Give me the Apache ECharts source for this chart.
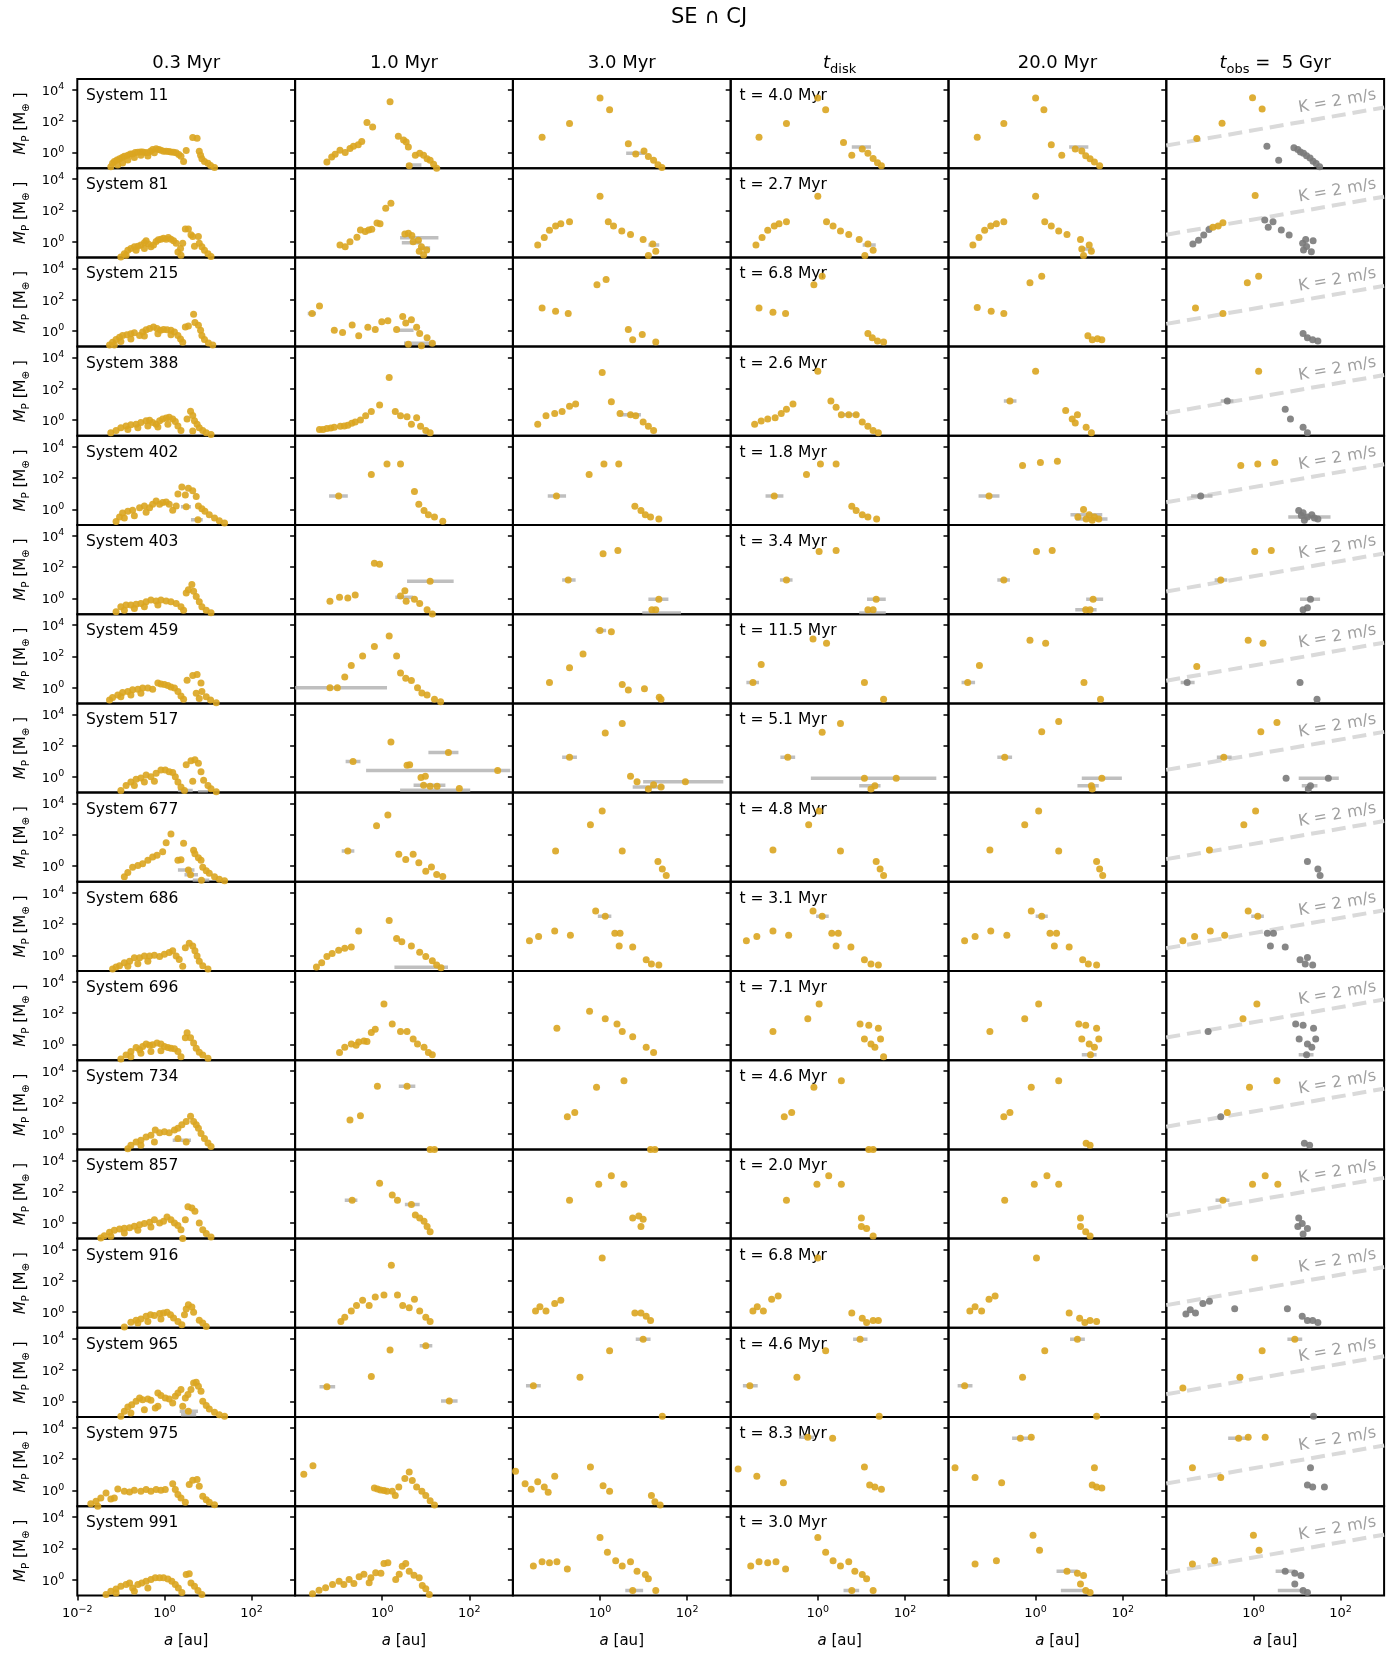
<!DOCTYPE html>
<html><head><meta charset="utf-8">
<script src="https://cdn.jsdelivr.net/npm/echarts@6/dist/echarts.min.js"></script>
<style>html,body{margin:0;padding:0;background:#fff}#c{width:1400px;height:1653px}</style>
</head><body><div id="c"></div>
<script>
// ---------- data (all positions in log10: [log10(a/au), log10(M/M_earth)]) ----------
const SYSTEMS = [11,81,215,388,402,403,459,517,677,686,696,734,857,916,965,975,991];
const T_DISK = ['4.0','2.7','6.8','2.6','1.8','3.4','11.5','5.1','4.8','3.1','7.1','4.6','2.0','6.8','4.6','8.3','3.0'];
const COL_TITLES = ['0.3 Myr','1.0 Myr','3.0 Myr','{i|t}{s|disk}','20.0 Myr','{i|t}{s|obs}{n| =  5 Gyr}'];
const X_TICKS = [0.01, 1, 100];
const Y_TICKS = [1, 100, 10000];
const K_LINE_LOG = [[-2, 0.45], [3, 2.88]]; // K = 2 m/s detection line

// Y_* : yellow points per column [0.3, 1.0, 3.0, t_disk, 20.0, t_obs]; G_* : grey points (t_obs); B_* : grey error bars [col, logA_lo, logA_hi, logM]
const Y_11 = [
 [[-1.23,-0.9],[-1.19,-0.68],[-1.15,-0.57],[-1.09,-0.48],[-1.03,-0.39],[-0.97,-0.31],[-0.92,-0.24],[-0.84,-0.18],[-0.78,-0.09],[-0.73,-0.09],[-0.67,0],[-0.61,0.02],[-0.55,0.04],[-0.5,0.04],[-0.44,0],[-0.38,-0.02],[-0.32,0.09],[-0.27,0.2],[-0.19,0.24],[-0.13,0.2],[-0.08,0.15],[-0.02,0.09],[0.04,0.09],[0.1,0.07],[0.15,0.04],[0.21,0.02],[0.27,-0.02],[0.33,-0.13],[0.38,-0.24],[0.44,-0.57],[0.5,0.13],[0.65,0.96],[0.75,0.92],[0.8,0.09],[0.83,-0.18],[0.86,-0.39],[0.92,-0.57],[1.0,-0.68],[1.06,-0.83],[1.15,-0.96],[-1.07,-0.79],[-0.96,-0.66],[-0.84,-0.48],[-0.69,-0.31],[-0.54,-0.18],[-0.38,-0.22],[-0.23,-0.02]],
 [[-1.27,-0.6],[-1.16,-0.28],[-1.08,-0.11],[-0.97,0.15],[-0.85,0.0],[-0.74,0.26],[-0.66,0.4],[-0.55,0.5],[-0.47,0.7],[-0.35,1.92],[-0.22,1.64],[0.18,3.24],[0.37,1.04],[0.49,0.8],[0.55,0.68],[0.6,0.36],[0.76,-0.17],[0.86,-0.04],[0.95,-0.17],[1.03,-0.4],[1.1,-0.5],[1.18,-0.75],[1.25,-1.0],[0.62,-0.85]],
 [[-1.33,0.97],[-0.7,1.85],[0.0,3.48],[0.22,2.73],[0.65,0.57],[0.82,-0.1],[1.01,0.1],[1.11,-0.25],[1.23,-0.5],[1.33,-0.78],[1.42,-0.95]],
 [[-1.35,0.97],[-0.72,1.85],[0.0,3.48],[0.18,2.73],[0.59,0.64],[0.78,-0.17],[1.02,0.23],[1.15,-0.04],[1.27,-0.38],[1.37,-0.65],[1.46,-0.85]],
 [[-1.34,0.97],[-0.73,1.85],[0.0,3.48],[0.19,2.73],[0.36,0.5],[0.6,-0.17],[0.91,0.23],[1.06,0.1],[1.15,-0.2],[1.25,-0.4],[1.35,-0.6],[1.47,-0.85]],
 [[-1.3,0.9],[-0.72,1.87],[-0.02,3.5],[0.2,2.78]]
];
const G_11 = [[0.31,0.4],[0.58,-0.5],[0.93,0.3],[1.02,0.2],[1.08,0.04],[1.15,-0.05],[1.22,-0.2],[1.3,-0.35],[1.37,-0.55],[1.44,-0.7],[1.52,-0.9]];
const B_11 = [[1,0.55,0.9,-0.8],[2,0.6,1.04,-0.04],[3,0.78,1.22,0.36],[4,0.77,1.21,0.36]];

const Y_81 = [
 [[-1.0,-0.98],[-0.92,-0.76],[-0.84,-0.54],[-0.77,-0.43],[-0.69,-0.32],[-0.61,-0.28],[-0.54,-0.21],[-0.46,-0.06],[-0.42,0.07],[-0.37,-0.15],[-0.31,-0.32],[-0.25,-0.21],[-0.19,0.01],[-0.14,0.12],[-0.08,0.16],[-0.02,0.23],[0.04,0.16],[0.09,0.27],[0.15,0.16],[0.21,0.07],[0.27,-0.1],[0.31,-0.65],[0.37,-0.43],[0.42,-0.1],[0.48,0.82],[0.55,0.82],[0.61,0.45],[0.65,0.34],[0.69,-0.28],[0.78,0.34],[0.8,-0.1],[0.86,-0.32],[0.92,-0.54],[1.0,-0.76],[1.07,-0.94],[-0.88,-0.87],[-0.65,-0.54],[-0.46,-0.43],[0.38,-0.87]],
 [[-0.97,-0.21],[-0.85,-0.32],[-0.74,0.0],[-0.58,0.28],[-0.5,0.75],[-0.39,0.65],[-0.31,0.75],[-0.24,0.8],[-0.12,1.2],[-0.05,1.15],[0.08,2.14],[0.2,2.46],[0.52,0.5],[0.6,0.55],[0.68,0.4],[0.71,0.0],[0.83,0.1],[0.9,-0.32],[1.02,-0.53],[0.85,-0.6],[0.95,-0.85]],
 [[-1.43,-0.2],[-1.28,0.27],[-1.16,0.74],[-1.02,1.0],[-0.9,1.15],[-0.7,1.28],[0.0,2.9],[0.19,1.28],[0.31,1.0],[0.5,0.68],[0.7,0.47],[0.99,0.14],[1.21,-0.14],[1.28,-0.6],[1.11,-0.88]],
 [[-1.42,-0.2],[-1.28,0.27],[-1.15,0.74],[-1.0,1.0],[-0.89,1.15],[-0.72,1.28],[0.0,2.9],[0.2,1.28],[0.35,1.0],[0.52,0.68],[0.71,0.47],[0.95,0.14],[1.15,-0.14],[1.27,-0.54],[1.08,-0.88]],
 [[-1.44,-0.2],[-1.3,0.27],[-1.17,0.74],[-1.03,1.0],[-0.9,1.15],[-0.73,1.28],[0.0,2.9],[0.21,1.28],[0.36,1.0],[0.53,0.68],[0.72,0.47],[1.03,0.14],[1.23,-0.2],[1.06,-0.47],[1.28,-0.6],[1.1,-0.88]],
 [[-0.93,0.92],[-0.81,1.0],[-0.7,1.22],[0.04,2.95]]
];
const G_81 = [[-1.39,-0.15],[-1.26,0.1],[-1.14,0.43],[-1.02,0.79],[0.26,1.39],[0.34,0.92],[0.45,1.28],[0.64,0.75],[0.82,0.43],[1.13,-0.1],[1.2,0.15],[1.37,0.06],[1.15,-0.53],[1.33,-0.64],[1.22,-0.3]];
const B_81 = [[1,0.41,1.29,0.26],[1,0.45,0.9,-0.06],[1,0.86,1.1,-0.4],[2,1.11,1.36,-0.2],[3,1.03,1.33,-0.2],[4,1.03,1.33,-0.47]];

const Y_215 = [
 [[-1.26,-0.9],[-1.19,-0.73],[-1.11,-0.55],[-1.03,-0.4],[-0.96,-0.29],[-0.86,-0.25],[-0.77,-0.18],[-0.69,-0.12],[-0.57,-0.29],[-0.5,-0.07],[-0.42,0.08],[-0.34,0.15],[-0.25,0.26],[-0.17,0.15],[-0.09,0.04],[-0.02,0.1],[0.06,0.08],[0.15,0.04],[0.23,-0.07],[0.31,-0.29],[0.37,-0.51],[0.42,-0.73],[0.48,0.26],[0.55,0.32],[0.67,1.07],[0.7,0.54],[0.78,0.37],[0.83,0.04],[0.86,-0.29],[0.92,-0.55],[1.01,-0.77],[1.11,-0.9],[-1.15,-0.9],[-1.0,-0.68],[-0.77,-0.51],[-0.46,-0.33],[-0.15,-0.18],[0.15,-0.25]],
 [[-1.61,1.12],[-1.44,1.59],[-1.1,0.04],[-0.91,-0.1],[-0.69,0.38],[-0.54,-0.3],[-0.33,0.24],[-0.16,0.1],[-0.01,0.58],[0.13,0.65],[0.33,0.1],[0.47,0.92],[0.54,0.51],[0.67,0.72],[0.79,0.24],[0.86,-0.16],[1.03,-0.44],[1.15,-0.78],[0.6,-0.85],[0.9,-0.95]],
 [[-1.33,1.46],[-1.02,1.26],[-0.73,1.12],[-0.07,2.95],[0.14,3.28],[0.65,0.1],[0.75,-0.57],[0.97,-0.23],[1.28,-0.7]],
 [[-1.35,1.46],[-1.03,1.19],[-0.74,1.12],[-0.09,2.95],[0.1,3.49],[1.15,-0.16],[1.25,-0.44],[1.37,-0.64],[1.51,-0.7]],
 [[-1.34,1.5],[-1.02,1.26],[-0.73,1.12],[-0.13,3.08],[0.14,3.49],[1.2,-0.3],[1.3,-0.57],[1.42,-0.5],[1.52,-0.57]],
 [[-1.33,1.46],[-0.7,1.12],[-0.14,3.08],[0.12,3.49]]
];
const G_215 = [[1.14,-0.16],[1.24,-0.44],[1.36,-0.57],[1.48,-0.64]];
const B_215 = [[1,-1.71,-1.52,1.12],[1,0.5,1.22,-0.78],[1,0.38,0.72,0.04]];

const Y_388 = [
 [[-1.23,-0.81],[-1.11,-0.66],[-1.0,-0.48],[-0.88,-0.37],[-0.77,-0.3],[-0.65,-0.26],[-0.54,-0.15],[-0.42,-0.04],[-0.34,0],[-0.27,-0.15],[-0.19,-0.26],[-0.11,-0.04],[-0.04,0.07],[0.04,0.14],[0.11,0.18],[0.19,0.07],[0.25,-0.09],[0.31,-0.37],[0.38,-0.66],[0.52,0.07],[0.6,0.57],[0.65,0.29],[0.69,-0.04],[0.75,-0.26],[0.8,-0.48],[0.88,-0.66],[0.96,-0.81],[1.07,-0.92],[-0.84,-0.59],[-0.61,-0.48],[-0.38,-0.37],[-0.15,-0.44],[0.08,-0.26],[0.65,-0.7]],
 [[-1.44,-0.59],[-1.36,-0.6],[-1.27,-0.53],[-1.18,-0.5],[-1.1,-0.46],[-0.96,-0.39],[-0.87,-0.38],[-0.79,-0.32],[-0.7,-0.2],[-0.62,-0.12],[-0.5,0.01],[-0.38,0.28],[-0.25,0.55],[-0.06,0.96],[0.16,2.72],[0.3,0.55],[0.42,0.28],[0.57,0.22],[0.67,-0.26],[0.79,0.15],[0.88,-0.39],[1.0,-0.66],[1.1,-0.8]],
 [[-1.43,-0.26],[-1.24,0.28],[-1.04,0.42],[-0.87,0.55],[-0.7,0.89],[-0.56,1.03],[0.05,3.05],[0.26,1.17],[0.46,0.42],[0.7,0.35],[0.82,0.28],[0.99,-0.12],[1.11,-0.39],[1.23,-0.66]],
 [[-1.45,-0.26],[-1.3,-0.05],[-1.15,0.08],[-0.98,0.15],[-0.84,0.42],[-0.72,0.69],[-0.57,1.03],[0.0,3.12],[0.3,1.23],[0.42,0.82],[0.54,0.35],[0.71,0.35],[0.88,0.35],[1.02,-0.12],[1.15,-0.39],[1.27,-0.66],[1.39,-0.8]],
 [[-0.59,1.23],[0.0,3.12],[0.69,0.62],[0.84,0.08],[0.96,0.35],[0.91,-0.19],[1.16,-0.46],[1.28,-0.8]],
 [[0.12,3.12]]
];
const G_388 = [[-0.6,1.23],[0.73,0.69],[0.85,0.08],[1.14,-0.46],[1.24,-0.8]];
const B_388 = [[2,0.46,0.94,0.35],[3,0.59,0.95,0.35],[4,-0.73,-0.44,1.23],[5,-0.75,-0.46,1.23]];

const Y_402 = [
 [[-1.11,-0.77],[-1.03,-0.49],[-0.96,-0.23],[-0.84,-0.12],[-0.73,-0.05],[-0.57,0.1],[-0.46,0.21],[-0.34,0.1],[-0.27,0.32],[-0.19,0.54],[-0.11,0.32],[-0.04,0.43],[0.04,0.47],[0.11,0.32],[0.19,-0.05],[0.27,0.21],[0.31,0.98],[0.4,1.42],[0.48,0.91],[0.55,1.34],[0.65,1.19],[0.73,0.82],[0.78,0.21],[0.86,0.04],[0.93,-0.12],[1.03,-0.34],[1.15,-0.56],[1.26,-0.73],[1.38,-0.88],[0.5,0.17],[0.77,-0.67],[-0.92,-0.56],[-0.69,-0.41],[-0.42,-0.19]],
 [[-1.0,0.86],[-0.25,2.22],[0.11,2.89],[0.42,2.89],[0.74,1.14],[0.84,0.32],[0.96,-0.08],[1.06,-0.35],[1.2,-0.49],[1.39,-0.76]],
 [[-1.0,0.86],[-0.25,2.22],[0.09,2.89],[0.43,2.89],[0.8,0.19],[0.94,-0.08],[1.04,-0.35],[1.16,-0.49],[1.35,-0.62]],
 [[-1.0,0.86],[-0.26,2.22],[0.06,2.89],[0.42,2.89],[0.78,0.19],[0.88,-0.08],[1.02,-0.35],[1.15,-0.49],[1.35,-0.62]],
 [[-1.07,0.86],[-0.3,2.8],[0.11,3.0],[0.5,3.07],[1.1,-0.01],[1.23,-0.35],[1.35,-0.49],[1.16,-0.62],[1.45,-0.62],[0.97,-0.49],[1.3,-0.7]],
 [[-0.29,2.8],[0.1,2.89],[0.49,3.0]]
];
const G_402 = [[-1.21,0.86],[1.04,-0.08],[1.14,-0.22],[1.24,-0.49],[1.34,-0.35],[1.17,-0.69],[1.48,-0.62],[1.1,-0.4],[1.4,-0.55]];
const B_402 = [[0,0.38,0.61,0.17],[0,0.61,0.88,-0.67],[1,-1.22,-0.79,0.86],[2,-1.2,-0.78,0.86],[3,-1.2,-0.79,0.86],[4,-1.31,-0.83,0.86],[4,0.8,1.53,-0.35],[4,0.92,1.65,-0.62],[5,-1.43,-0.94,0.86],[5,0.8,1.77,-0.49]];

const Y_403 = [
 [[-1.11,-0.85],[-1.0,-0.53],[-0.88,-0.42],[-0.77,-0.42],[-0.65,-0.37],[-0.54,-0.31],[-0.42,-0.2],[-0.31,-0.09],[-0.19,-0.15],[-0.08,-0.09],[0.04,-0.15],[0.15,-0.2],[0.27,-0.31],[0.38,-0.53],[0.44,-0.74],[0.5,0.35],[0.55,0.57],[0.63,0.9],[0.67,0.46],[0.73,0.13],[0.8,-0.2],[0.86,-0.53],[0.96,-0.74],[1.07,-0.9],[-0.92,-0.74],[-0.69,-0.63],[-0.46,-0.53],[-0.15,-0.42]],
 [[-1.2,-0.18],[-0.98,0.09],[-0.79,0.03],[-0.62,0.23],[-0.18,2.25],[-0.06,2.19],[0.42,0.16],[0.52,0.5],[0.55,-0.18],[0.74,-0.04],[0.86,-0.31],[1.03,-0.72],[1.15,-0.99],[1.1,1.11]],
 [[-0.73,1.18],[0.07,2.87],[0.41,3.07],[1.35,-0.04],[1.19,-0.72],[1.28,-0.72]],
 [[-0.72,1.18],[0.03,3.0],[0.42,3.07],[1.34,-0.04],[1.15,-0.72],[1.27,-0.72]],
 [[-0.73,1.18],[0.02,3.0],[0.38,3.07],[1.32,-0.04],[1.15,-0.72],[1.25,-0.72]],
 [[-0.75,1.18],[0.03,3.0],[0.41,3.07]]
];
const G_403 = [[1.31,-0.04],[1.14,-0.72],[1.24,-0.58]];
const B_403 = [[1,0.57,1.64,1.11],[1,0.3,0.71,0.09],[2,-0.87,-0.56,1.18],[2,1.11,1.57,-0.04],[2,0.97,1.86,-0.92],[3,-0.87,-0.58,1.18],[3,1.13,1.56,-0.04],[3,0.95,1.56,-0.92],[4,-0.88,-0.59,1.18],[4,1.16,1.55,-0.04],[4,0.91,1.4,-0.72],[5,-0.89,-0.6,1.18],[5,1.07,1.53,-0.04]];

const Y_459 = [
 [[-1.26,-0.79],[-1.19,-0.63],[-1.07,-0.46],[-0.96,-0.31],[-0.84,-0.24],[-0.73,-0.13],[-0.61,-0.09],[-0.5,-0.02],[-0.38,-0.02],[-0.27,-0.09],[-0.15,0.31],[-0.08,0.24],[0,0.2],[0.08,0.15],[0.15,0.04],[0.23,-0.02],[0.31,-0.24],[0.38,-0.53],[0.44,-0.74],[0.52,0.48],[0.65,0.79],[0.75,0.85],[0.73,-0.35],[0.8,-0.68],[0.84,0.31],[0.86,-0.24],[0.96,-0.57],[1.06,-0.79],[1.19,-0.96],[-1.0,-0.57],[-0.77,-0.46],[-0.54,-0.35]],
 [[-1.2,0.0],[-1.03,0.0],[-0.86,0.68],[-0.71,1.42],[-0.45,2.03],[-0.18,2.64],[0.16,3.31],[0.33,2.03],[0.42,0.95],[0.54,0.61],[0.67,0.47],[0.81,0.0],[0.91,-0.34],[1.03,-0.47],[1.2,-0.74],[1.34,-0.9]],
 [[-1.16,0.34],[-0.7,1.28],[-0.39,2.16],[0.0,3.65],[0.26,3.58],[0.51,0.2],[0.65,-0.14],[1.02,-0.07],[1.36,-0.61],[1.4,-0.74]],
 [[-1.49,0.34],[-1.3,1.49],[-0.11,3.11],[0.2,2.84],[1.07,0.34],[1.51,-0.74]],
 [[-1.56,0.34],[-1.29,1.42],[-0.13,3.04],[0.23,2.84],[1.11,0.34],[1.49,-0.74]],
 [[-1.3,1.35],[-0.12,3.04],[0.22,2.84]]
];
const G_459 = [[-1.52,0.34],[1.07,0.34],[1.46,-0.74]];
const B_459 = [[1,-2.0,0.11,0.0],[2,-0.1,0.14,3.65],[3,-1.64,-1.35,0.34],[4,-1.7,-1.39,0.34],[5,-1.67,-1.35,0.34]];

const Y_517 = [
 [[-1.0,-0.87],[-0.88,-0.54],[-0.77,-0.32],[-0.65,-0.14],[-0.54,-0.06],[-0.42,0.12],[-0.31,0.01],[-0.19,0.23],[-0.08,0.45],[0.02,0.45],[0.11,0.34],[0.19,0.29],[0.25,0.01],[0.31,-0.32],[0.38,-0.65],[0.5,0.78],[0.61,1.04],[0.7,1.1],[0.78,0.88],[0.84,0.34],[0.65,-0.28],[0.9,-0.21],[1.0,-0.54],[1.07,-0.76],[1.19,-0.94],[-0.69,-0.54],[-0.46,-0.32],[-0.23,-0.28],[0.46,-0.87]],
 [[-0.67,0.99],[0.2,2.24],[1.52,1.56],[0.57,0.75],[0.63,0.78],[2.65,0.41],[0.89,-0.04],[0.99,0.04],[0.95,-0.53],[1.26,-0.6],[1.1,-0.6],[1.77,-0.74]],
 [[-0.7,1.26],[0.12,2.81],[0.51,3.42],[0.7,0.04],[0.85,-0.3],[1.96,-0.3],[1.23,-0.5],[1.11,-0.77],[1.4,-0.64]],
 [[-0.69,1.26],[0.1,2.85],[0.52,3.42],[1.07,-0.09],[1.8,-0.09],[1.31,-0.57],[1.22,-0.77]],
 [[-0.71,1.26],[0.14,2.88],[0.53,3.55],[1.52,-0.09],[1.28,-0.57],[1.3,-0.77]],
 [[-0.68,1.26],[0.17,2.88],[0.54,3.48]]
];
const G_517 = [[0.75,-0.09],[1.72,-0.09],[1.31,-0.57],[1.26,-0.77]];
const B_517 = [[0,0.31,0.65,-0.87],[0,0.77,1.0,-0.94],[1,-0.84,-0.5,0.99],[1,1.06,1.75,1.56],[1,-0.37,2.94,0.41],[1,0.72,1.45,-0.53],[1,0.41,2.02,-0.85],[2,-0.87,-0.53,1.26],[2,0.99,2.83,-0.3],[2,0.75,1.48,-0.64],[3,-0.86,-0.52,1.26],[3,-0.16,2.72,-0.09],[3,0.95,1.44,-0.57],[4,-0.88,-0.54,1.26],[4,1.06,1.98,-0.09],[4,0.96,1.45,-0.57],[5,-0.84,-0.5,1.26],[5,1.04,1.96,-0.09],[5,1.11,1.47,-0.57]];

const Y_677 = [
 [[-0.92,-0.68],[-0.84,-0.4],[-0.73,-0.07],[-0.61,0.04],[-0.5,0.15],[-0.38,0.37],[-0.27,0.58],[-0.17,0.7],[-0.04,0.92],[0.04,1.5],[0.15,2.05],[0.31,0.37],[0.38,0.41],[0.44,1.46],[0.67,1.02],[0.7,0.8],[0.78,0.54],[0.84,0.37],[0.88,-0.07],[0.96,-0.29],[1.03,-0.46],[1.15,-0.68],[1.26,-0.83],[1.38,-0.94],[0.55,-0.25],[0.6,-0.55],[0.85,-0.9]],
 [[-0.79,0.96],[-0.13,2.58],[0.13,3.26],[0.38,0.76],[0.54,0.42],[0.71,0.76],[0.84,0.22],[1.0,-0.32],[1.13,-0.05],[1.25,-0.53],[1.39,-0.66]],
 [[-1.02,0.96],[-0.22,2.65],[0.05,3.53],[0.51,0.96],[1.33,0.29],[1.43,-0.19],[1.52,-0.59]],
 [[-1.03,1.03],[-0.21,2.65],[0.03,3.53],[0.52,0.96],[1.34,0.29],[1.43,-0.19],[1.51,-0.59]],
 [[-1.05,1.03],[-0.25,2.65],[0.07,3.53],[0.53,0.96],[1.4,0.29],[1.47,-0.19],[1.54,-0.59]],
 [[-1.01,1.03],[-0.22,2.65],[0.05,3.53]]
];
const G_677 = [[1.24,0.29],[1.48,-0.19],[1.53,-0.59]];
const B_677 = [[0,0.31,0.69,-0.25],[0,0.46,0.77,-0.55],[0,0.65,1.03,-0.9],[1,-0.93,-0.64,0.96]];

const Y_686 = [
 [[-1.19,-0.87],[-1.11,-0.74],[-1.03,-0.66],[-0.92,-0.48],[-0.8,-0.37],[-0.69,-0.15],[-0.57,-0.15],[-0.46,-0.04],[-0.34,-0.04],[-0.23,0],[-0.11,-0.08],[0,0.07],[0.11,0.18],[0.19,0.29],[0.27,-0.04],[0.34,-0.26],[0.42,-0.7],[0.48,0.49],[0.57,0.77],[0.65,0.59],[0.7,0.29],[0.75,-0.04],[0.8,-0.37],[0.88,-0.66],[1.0,-0.87],[-0.84,-0.7],[-0.61,-0.53],[-0.38,-0.37]],
 [[-1.51,-0.75],[-1.39,-0.48],[-1.27,-0.08],[-1.15,0.12],[-1.0,0.32],[-0.86,0.46],[-0.71,0.53],[-0.54,1.55],[0.16,2.22],[0.33,1.07],[0.45,0.87],[0.67,0.6],[0.86,0.19],[1.0,-0.08],[1.15,-0.35],[1.25,-0.62],[1.35,-0.8]],
 [[-1.62,0.94],[-1.41,1.2],[-1.04,1.55],[-0.68,1.28],[-0.1,2.83],[0.12,2.5],[0.34,1.41],[0.46,1.41],[0.44,0.6],[0.75,0.53],[1.06,-0.28],[1.18,-0.55],[1.35,-0.62]],
 [[-1.64,0.94],[-1.4,1.2],[-1.03,1.55],[-0.67,1.28],[-0.11,2.83],[0.1,2.5],[0.32,1.41],[0.47,1.41],[0.42,0.6],[0.76,0.53],[1.07,-0.28],[1.22,-0.55],[1.39,-0.62]],
 [[-1.63,0.94],[-1.39,1.2],[-1.03,1.55],[-0.66,1.28],[-0.1,2.83],[0.14,2.5],[0.33,1.41],[0.48,1.41],[0.43,0.6],[0.77,0.53],[1.08,-0.28],[1.21,-0.55],[1.4,-0.62]],
 [[-1.62,0.94],[-1.35,1.2],[-0.99,1.55],[-0.66,1.28],[-0.12,2.83],[0.1,2.5]]
];
const G_686 = [[0.32,1.41],[0.46,1.41],[0.39,0.6],[0.73,0.53],[1.07,-0.28],[1.19,-0.55],[1.36,-0.62],[1.24,-0.14]];
const B_686 = [[1,0.28,1.51,-0.76],[2,-0.05,0.26,2.5],[3,-0.04,0.25,2.5],[4,0.0,0.28,2.5],[5,-0.05,0.24,2.5]];

const Y_696 = [
 [[-1.0,-0.93],[-0.88,-0.67],[-0.77,-0.45],[-0.65,-0.19],[-0.57,-0.34],[-0.5,-0.12],[-0.42,0.03],[-0.34,-0.05],[-0.27,-0.01],[-0.17,0.1],[-0.08,0.03],[0,-0.12],[0.08,-0.19],[0.15,-0.23],[0.23,-0.27],[0.31,-0.45],[0.38,-0.78],[0.48,0.43],[0.52,0.75],[0.6,0.43],[0.67,0.1],[0.73,-0.23],[0.8,-0.49],[0.88,-0.67],[1.0,-0.88],[-0.77,-0.78],[-0.54,-0.56],[-0.31,-0.45],[-0.08,-0.4]],
 [[-0.98,-0.51],[-0.86,-0.18],[-0.71,0.03],[-0.54,0.16],[-0.42,0.23],[-0.25,0.77],[-0.16,0.97],[0.04,2.59],[0.23,1.31],[0.42,0.84],[0.57,0.84],[0.71,0.36],[0.81,0.03],[0.96,-0.18],[1.06,-0.51],[1.15,-0.65],[-0.35,0.2],[-0.6,-0.05]],
 [[-0.99,1.04],[-0.24,2.12],[0.12,1.65],[0.39,1.31],[0.51,0.84],[0.75,0.5],[1.06,-0.18],[1.23,-0.51]],
 [[-1.03,0.84],[-0.23,1.65],[0.03,2.59],[0.97,1.31],[1.17,1.24],[1.39,1.04],[1.07,0.36],[1.22,0.03],[1.44,0.36],[1.31,-0.18],[1.51,-0.78]],
 [[-1.05,0.84],[-0.25,1.65],[0.07,2.59],[0.99,1.31],[1.15,1.24],[1.4,1.04],[1.06,0.36],[1.23,0.03],[1.45,0.36],[1.35,-0.18],[1.26,-0.65]],
 [[-0.24,1.65],[0.08,2.59]]
];
const G_696 = [[-1.04,0.84],[0.97,1.31],[1.14,1.24],[1.38,1.04],[1.05,0.36],[1.24,0.03],[1.43,0.36],[1.34,-0.18],[1.22,-0.65]];
const B_696 = [[4,1.06,1.4,-0.65],[5,1.04,1.38,-0.65]];

const Y_734 = [
 [[-0.84,-0.96],[-0.77,-0.74],[-0.65,-0.53],[-0.54,-0.42],[-0.42,-0.2],[-0.31,-0.09],[-0.21,0.24],[-0.11,0.07],[0,0.13],[0.11,0.07],[0.23,0.24],[0.31,0.35],[0.4,0.57],[0.5,0.79],[0.6,1.12],[0.67,0.79],[0.73,0.57],[0.78,0.35],[0.84,0.02],[0.92,-0.31],[1.0,-0.59],[1.07,-0.81],[0.31,-0.31],[0.5,-0.53],[-0.54,-0.74],[-0.23,-0.53]],
 [[-0.74,0.88],[-0.5,1.15],[-0.11,3.04],[0.57,3.04],[1.1,-1.0],[1.2,-1.0]],
 [[-0.75,1.08],[-0.58,1.35],[-0.08,2.97],[0.55,3.38],[1.16,-1.0],[1.26,-1.0]],
 [[-0.77,1.08],[-0.6,1.35],[-0.09,2.97],[0.54,3.38],[1.17,-1.0],[1.27,-1.0]],
 [[-0.73,1.08],[-0.59,1.35],[-0.1,2.97],[0.53,3.38],[1.16,-0.61],[1.25,-0.74]],
 [[-0.6,1.35],[-0.09,2.97],[0.54,3.38]]
];
const G_734 = [[-0.75,1.08],[1.17,-0.61],[1.29,-0.74]];
const B_734 = [[0,0.19,0.61,-0.42],[1,0.38,0.76,3.04]];

const Y_857 = [
 [[-1.46,-0.96],[-1.38,-0.81],[-1.26,-0.6],[-1.15,-0.47],[-1.03,-0.38],[-0.92,-0.34],[-0.8,-0.3],[-0.69,-0.21],[-0.57,-0.11],[-0.46,-0.04],[-0.34,0.04],[-0.23,0.21],[-0.11,0],[-0.02,0.11],[0.06,0.38],[0.15,0.21],[0.23,0],[0.31,-0.17],[0.38,-0.43],[0.42,-1.0],[0.48,0.21],[0.54,1.03],[0.63,0.96],[0.7,0.75],[0.8,0],[0.88,-0.43],[0.96,-0.68],[1.07,-0.9],[-1.23,-0.85],[-0.92,-0.64],[-0.61,-0.47],[-0.31,-0.26]],
 [[-0.69,1.45],[-0.06,2.53],[0.23,1.79],[0.35,1.45],[0.67,1.18],[0.76,0.51],[0.86,0.31],[0.96,0.11],[1.03,-0.23],[1.1,-0.57]],
 [[-0.7,1.45],[-0.03,2.47],[0.26,3.01],[0.55,2.47],[0.75,0.31],[0.89,0.45],[0.99,0.24],[0.94,-0.23]],
 [[-0.72,1.45],[-0.02,2.47],[0.25,3.01],[0.54,2.47],[1.0,0.31],[1.0,-0.23],[1.12,-0.36],[1.27,-0.84]],
 [[-0.71,1.45],[-0.03,2.47],[0.26,3.01],[0.53,2.47],[1.03,0.31],[1.03,-0.23],[1.15,-0.57],[1.25,-0.84]],
 [[-0.7,1.45],[-0.02,2.47],[0.27,3.01],[0.56,2.47]]
];
const G_857 = [[1.04,0.31],[1.12,-0.03],[1.02,-0.23],[1.24,-0.36],[1.14,-0.7]];
const B_857 = [[1,-0.86,-0.57,1.45],[1,0.52,0.86,1.18],[5,-0.87,-0.55,1.45]];

const Y_916 = [
 [[-0.92,-0.95],[-0.77,-0.65],[-0.65,-0.52],[-0.54,-0.44],[-0.42,-0.26],[-0.32,-0.16],[-0.23,-0.22],[-0.11,-0.09],[-0.02,-0.05],[0.06,0],[0.14,-0.16],[0.21,-0.37],[0.31,-0.59],[0.4,-0.8],[0.46,-0.16],[0.5,0.2],[0.55,0.48],[0.63,0.33],[0.67,0],[0.8,-0.52],[0.88,-0.69],[0.96,-0.91],[-0.61,-0.69],[-0.38,-0.59],[-0.08,-0.44]],
 [[-0.86,-0.32],[-0.71,0.08],[-0.59,0.42],[-0.45,0.76],[-0.3,0.42],[-0.16,0.96],[0.04,1.09],[0.21,2.99],[0.35,1.09],[0.47,0.42],[0.62,0.28],[0.74,0.82],[0.86,0.08],[1.0,-0.32],[1.1,-0.59],[-0.95,-0.6]],
 [[-1.48,0.08],[-1.38,0.35],[-1.24,0.08],[-1.04,0.55],[-0.9,0.76],[0.05,3.46],[0.8,-0.05],[0.94,-0.05],[1.06,-0.26],[1.16,-0.53]],
 [[-1.49,0.08],[-1.39,0.35],[-1.25,0.08],[-1.06,0.82],[-0.91,1.03],[0.0,3.46],[0.78,-0.05],[1.02,-0.39],[1.12,-0.66],[1.27,-0.53],[1.39,-0.53]],
 [[-1.51,0.08],[-1.39,0.35],[-1.24,0.08],[-1.07,0.82],[-0.93,1.03],[0.02,3.46],[0.77,-0.05],[1.01,-0.39],[1.13,-0.66],[1.25,-0.53],[1.4,-0.59]],
 [[0.03,3.46]]
];
const G_916 = [[-1.55,-0.12],[-1.45,0.15],[-1.33,-0.05],[-1.16,0.55],[-1.01,0.69],[-0.43,0.22],[0.78,0.22],[1.12,-0.26],[1.24,-0.53],[1.36,-0.53],[1.48,-0.66]];
const B_916 = [];

const Y_965 = [
 [[-1.0,-0.96],[-0.92,-0.64],[-0.84,-0.36],[-0.75,-0.21],[-0.65,0],[-0.57,0.22],[-0.5,0.11],[-0.38,0.15],[-0.31,0.07],[-0.21,-0.42],[-0.15,0.54],[-0.08,0.37],[0.02,0.22],[0.11,0.15],[0.19,-0.1],[0.25,0.33],[0.31,0.54],[0.38,0.76],[0.48,0.22],[0.54,0.43],[0.61,0.76],[0.67,1.18],[0.73,1.22],[0.78,0.97],[0.84,0.65],[0.88,0],[0.96,-0.27],[1.03,-0.49],[1.15,-0.7],[1.26,-0.85],[1.38,-0.96],[0.42,-0.31],[0.55,-0.63],[-0.77,-0.74],[-0.46,-0.53],[-0.15,-0.31]],
 [[-1.27,0.93],[-0.25,1.59],[0.18,3.28],[1.0,3.55],[1.54,0.03]],
 [[-1.53,1.0],[-0.46,1.54],[0.22,3.23],[0.99,3.97],[1.43,-0.96]],
 [[-1.56,1.0],[-0.48,1.54],[0.18,3.23],[0.97,3.97],[1.41,-0.96]],
 [[-1.63,1.0],[-0.3,1.54],[0.21,3.23],[0.96,3.97],[1.4,-0.96]],
 [[-1.62,0.86],[-0.31,1.54],[0.2,3.23],[0.95,3.97]]
];
const G_965 = [[1.38,-0.96]];
const B_965 = [[0,0.35,0.77,-0.63],[0,0.38,0.73,-0.85],[1,-1.44,-1.08,0.93],[1,0.86,1.15,3.55],[1,1.35,1.73,0.03],[2,-1.7,-1.36,1.0],[2,0.82,1.16,3.97],[3,-1.72,-1.38,1.0],[3,0.81,1.14,3.97],[4,-1.79,-1.45,1.0],[4,0.79,1.13,3.97],[5,0.78,1.12,3.97]];

const Y_975 = [
 [[-1.69,-0.84],[-1.57,-0.69],[-1.46,-0.47],[-1.34,-0.15],[-1.23,-0.54],[-1.07,0.1],[-0.92,-0.05],[-0.69,0.02],[-0.54,-0.05],[-0.42,0.06],[-0.31,-0.05],[-0.19,0.06],[-0.08,0.02],[0.02,0.06],[0.19,0.44],[0.25,0.06],[0.31,-0.26],[0.38,-0.47],[0.48,-0.75],[0.57,0.38],[0.65,0.66],[0.75,0.7],[0.8,0.27],[0.88,-0.37],[0.96,-0.58],[1.03,-0.75],[1.15,-0.9],[-1.53,-1.0],[-1.15,-0.47],[-0.8,-0.1]],
 [[-1.8,1.04],[-1.59,1.58],[-0.18,0.16],[-0.11,0.1],[-0.04,0.03],[0.04,0.0],[0.11,-0.04],[0.23,-0.04],[0.3,-0.31],[0.38,0.23],[0.52,0.77],[0.62,1.18],[0.69,0.64],[0.79,0.23],[0.91,-0.04],[1.0,-0.31],[1.1,-0.65],[1.2,-0.92]],
 [[-1.94,1.24],[-1.72,0.43],[-1.58,0.09],[-1.43,0.57],[-1.28,0.23],[-1.19,-0.11],[-1.04,0.91],[-0.22,1.51],[0.07,0.3],[0.22,-0.04],[1.18,-0.31],[1.26,-0.72],[1.38,-0.92]],
 [[-1.83,1.38],[-1.4,0.91],[-0.79,0.5],[-0.23,3.4],[0.34,3.34],[1.07,1.51],[1.31,0.23],[1.46,0.09],[1.19,0.36]],
 [[-1.85,1.45],[-1.39,0.84],[-0.78,0.5],[-0.35,3.34],[-0.1,3.4],[1.35,1.45],[1.3,0.36],[1.4,0.23],[1.52,0.16]],
 [[-1.4,1.45],[-0.75,0.84],[-0.34,3.34],[-0.12,3.4],[0.27,3.4]]
];
const G_975 = [[1.31,1.45],[1.24,0.36],[1.36,0.23],[1.63,0.23]];
const B_975 = [[3,-0.43,-0.09,3.4],[4,-0.54,-0.06,3.34],[5,-0.58,-0.1,3.34]];

const Y_991 = [
 [[-1.34,-0.95],[-1.23,-0.74],[-1.11,-0.59],[-1.0,-0.42],[-0.88,-0.31],[-0.8,-0.2],[-0.73,-0.53],[-0.61,-0.31],[-0.52,-0.2],[-0.42,-0.1],[-0.31,0.01],[-0.21,0.12],[-0.11,0.12],[-0.02,0.12],[0.08,0.05],[0.17,-0.1],[0.25,-0.31],[0.32,-0.53],[0.4,-0.81],[0.5,0.33],[0.57,0.39],[0.61,-0.2],[0.69,-0.42],[0.77,-0.68],[0.86,-0.95],[-1.11,-0.85],[-0.69,-0.74],[-0.38,-0.53]],
 [[-1.6,-0.9],[-1.45,-0.67],[-1.3,-0.51],[-1.14,-0.3],[-0.99,-0.09],[-0.88,-0.3],[-0.76,0.02],[-0.65,-0.24],[-0.53,0.19],[-0.42,0.35],[-0.3,-0.19],[-0.26,0.12],[-0.15,0.45],[-0.03,0.42],[0.04,1.04],[0.13,1.08],[0.31,0.02],[0.39,0.35],[0.46,0.87],[0.54,1.04],[0.62,0.55],[0.73,0.28],[0.85,0.12],[0.92,-0.37],[1.0,-0.58],[1.08,-0.95]],
 [[-1.53,0.88],[-1.33,1.15],[-1.16,1.08],[-0.99,1.15],[-0.75,0.68],[0.0,2.7],[0.17,1.76],[0.36,1.22],[0.51,0.88],[0.7,1.15],[0.85,0.54],[1.04,0.34],[1.11,0.07],[1.28,-0.68],[0.75,-0.68]],
 [[-1.54,0.88],[-1.35,1.15],[-1.15,1.08],[-0.96,1.15],[-0.74,0.68],[0.0,2.7],[0.18,1.76],[0.35,1.22],[0.52,0.88],[0.71,1.15],[0.85,0.54],[1.02,0.34],[1.12,0.07],[1.27,-0.68],[0.78,-0.68]],
 [[-1.39,1.01],[-0.9,1.22],[-0.06,2.84],[0.09,1.89],[0.72,0.54],[0.96,0.41],[1.1,0.27],[1.03,-0.27],[1.15,-0.68],[1.25,-0.81]],
 [[-1.4,1.01],[-0.89,1.22],[0.0,2.84],[0.13,1.89]]
];
const G_991 = [[0.73,0.54],[0.95,0.41],[1.09,0.27],[0.95,-0.27],[1.14,-0.68],[1.24,-0.81]];
const B_991 = [[2,0.58,0.99,-0.68],[3,0.59,0.95,-0.68],[4,0.48,0.96,0.54],[4,0.58,1.15,-0.68],[5,0.56,1.14,-0.68],[5,0.51,0.95,0.54]];

const YELLOW = [Y_11,Y_81,Y_215,Y_388,Y_402,Y_403,Y_459,Y_517,Y_677,Y_686,Y_696,Y_734,Y_857,Y_916,Y_965,Y_975,Y_991];
const GREY = [G_11,G_81,G_215,G_388,G_402,G_403,G_459,G_517,G_677,G_686,G_696,G_734,G_857,G_916,G_965,G_975,G_991];
const BARS = [B_11,B_81,B_215,B_388,B_402,B_403,B_459,B_517,B_677,B_686,B_696,B_734,B_857,B_916,B_965,B_975,B_991];

// ---------- layout ----------
const FONT = 'DejaVu Sans';
const L0 = 77.3, T0 = 79, CW = 217.8, RH = 89.2;
const NR = SYSTEMS.length, NC = 6;
const YEL = '#DAA520', GRY = '#7a7a7a';

const toLin = arr => arr.map(p => [Math.pow(10, p[0]), Math.pow(10, p[1])]);
const RICH_TICK = {
  b: {fontFamily: FONT, fontSize: 13, lineHeight: 16, verticalAlign: 'bottom', color: '#000'},
  e: {fontFamily: FONT, fontSize: 9.5, lineHeight: 10, verticalAlign: 'top', color: '#000'}
};
const RICH_NAME = {
  i: {fontFamily: FONT, fontSize: 15, fontStyle: 'italic', lineHeight: 18, verticalAlign: 'top', color: '#000'},
  n: {fontFamily: FONT, fontSize: 15, lineHeight: 18, verticalAlign: 'top', color: '#000'},
  s: {fontFamily: FONT, fontSize: 10.5, lineHeight: 11, verticalAlign: 'bottom', color: '#000'}
};
const RICH_HEAD = {
  i: {fontFamily: FONT, fontSize: 18, fontStyle: 'italic', lineHeight: 22, verticalAlign: 'top', fill: '#000', color: '#000'},
  n: {fontFamily: FONT, fontSize: 18, lineHeight: 22, verticalAlign: 'top', fill: '#000', color: '#000'},
  s: {fontFamily: FONT, fontSize: 13, lineHeight: 13, verticalAlign: 'bottom', fill: '#000', color: '#000'}
};
function powLabel(v) {
  const e = Math.round(Math.log10(v));
  return '{b|10}{e|' + (e < 0 ? '\u2212' + (-e) : e) + '}';
}

const grids = [], xAxes = [], yAxes = [], series = [], graphics = [];
const kData = K_LINE_LOG.map(p => [Math.pow(10, p[0]), Math.pow(10, p[1])]);

for (let r = 0; r < NR; r++) {
  for (let c = 0; c < NC; c++) {
    const idx = r * NC + c;
    const last = r === NR - 1;
    grids.push({left: L0 + c * CW, top: T0 + r * RH, width: CW, height: RH, show: true,
      borderColor: '#000', borderWidth: 2, backgroundColor: 'rgba(0,0,0,0)'});
    const xt = c === 0 ? X_TICKS : X_TICKS.slice(1);
    xAxes.push({gridIndex: idx, type: 'log', logBase: 10, min: 0.01, max: 1000,
      splitLine: {show: false}, axisLine: {show: false}, minorTick: {show: false},
      axisTick: {show: last, customValues: xt, length: 5, lineStyle: {color: '#000', width: 1.5}},
      axisLabel: {show: last, customValues: xt, formatter: powLabel, rich: RICH_TICK, margin: 9},
      name: last ? '{i|a}{n| [au]}' : '', nameLocation: 'middle', nameGap: 38,
      nameTextStyle: {rich: RICH_NAME}});
    yAxes.push({gridIndex: idx, type: 'log', logBase: 10, min: 0.1, max: 50000,
      splitLine: {show: false}, axisLine: {show: false}, minorTick: {show: false},
      axisTick: {show: true, customValues: Y_TICKS, length: 5, lineStyle: {color: '#000', width: 1.5}},
      axisLabel: {show: c === 0, customValues: Y_TICKS, formatter: powLabel, rich: RICH_TICK, margin: 13, align: 'right'},
      name: c === 0 ? '{i|M}{s|P}{n| [M}{s|\u2295}{n| ]}' : '', nameLocation: 'middle', nameGap: 46,
      nameTextStyle: {rich: RICH_NAME}});

    // error bars (horizontal, in a)
    const bars = BARS[r].filter(b => b[0] === c).map(b => [Math.pow(10, b[1]), Math.pow(10, b[2]), Math.pow(10, b[3])]);
    if (bars.length) {
      series.push({type: 'custom', xAxisIndex: idx, yAxisIndex: idx, data: bars, clip: true, silent: true, z: 2,
        encode: {x: [0, 1], y: 2},
        renderItem: function (params, api) {
          const p1 = api.coord([api.value(0), api.value(2)]);
          const p2 = api.coord([api.value(1), api.value(2)]);
          return {type: 'line', shape: {x1: p1[0], y1: p1[1], x2: p2[0], y2: p2[1]},
            style: {stroke: 'rgba(175,175,175,0.8)', lineWidth: 3.5}};
        }});
    }
    if (c === 5) {
      series.push({type: 'line', xAxisIndex: idx, yAxisIndex: idx, data: kData, symbol: 'none', silent: true, z: 1,
        lineStyle: {color: '#dadada', width: 4, type: [14, 7]}});
      series.push({type: 'scatter', xAxisIndex: idx, yAxisIndex: idx, data: toLin(GREY[r]), symbolSize: 7, silent: true, z: 3,
        itemStyle: {color: GRY, opacity: 0.9}});
    }
    series.push({type: 'scatter', xAxisIndex: idx, yAxisIndex: idx, data: toLin(YELLOW[r][c]), symbolSize: 7, silent: true, z: 4,
      itemStyle: {color: YEL, opacity: 0.9}});
  }
  // in-panel texts
  graphics.push({type: 'text', x: L0 + 8.7, y: T0 + r * RH + 17, z: 0,
    style: {text: 'System ' + SYSTEMS[r], fontFamily: FONT, fontSize: 15.5, fill: '#000', align: 'left', verticalAlign: 'middle'}});
  graphics.push({type: 'text', x: L0 + 3 * CW + 8.7, y: T0 + r * RH + 17, z: 0,
    style: {text: 't = ' + T_DISK[r] + ' Myr', fontFamily: FONT, fontSize: 15.5, fill: '#000', align: 'left', verticalAlign: 'middle'}});
  graphics.push({type: 'text', x: L0 + 5 * CW + 171, y: T0 + r * RH + 22.5, rotation: 9.9 * Math.PI / 180, z: 0,
    style: {text: 'K = 2 m/s', fontFamily: FONT, fontSize: 16, fill: '#a0a0a0', align: 'center', verticalAlign: 'middle'}});
}
// column headers + title
for (let c = 0; c < NC; c++) {
  const t = COL_TITLES[c].indexOf('{') === 0 ? COL_TITLES[c] : '{n|' + COL_TITLES[c] + '}';
  graphics.push({type: 'text', x: L0 + (c + 0.5) * CW, y: 65.5,
    style: {text: t, rich: RICH_HEAD, fontFamily: FONT, fontSize: 18, fill: '#000', align: 'center', verticalAlign: 'middle'}});
}
graphics.push({type: 'text', x: 709, y: 17.5,
  style: {text: 'SE \u2229 CJ', fontFamily: FONT, fontSize: 21, fill: '#000', align: 'center', verticalAlign: 'middle'}});

const chart = echarts.init(document.getElementById('c'), null, {renderer: 'canvas', width: 1400, height: 1653});
chart.setOption({animation: false, backgroundColor: '#fff', grid: grids, xAxis: xAxes, yAxis: yAxes, series: series, graphic: graphics});
</script>
</body></html>
